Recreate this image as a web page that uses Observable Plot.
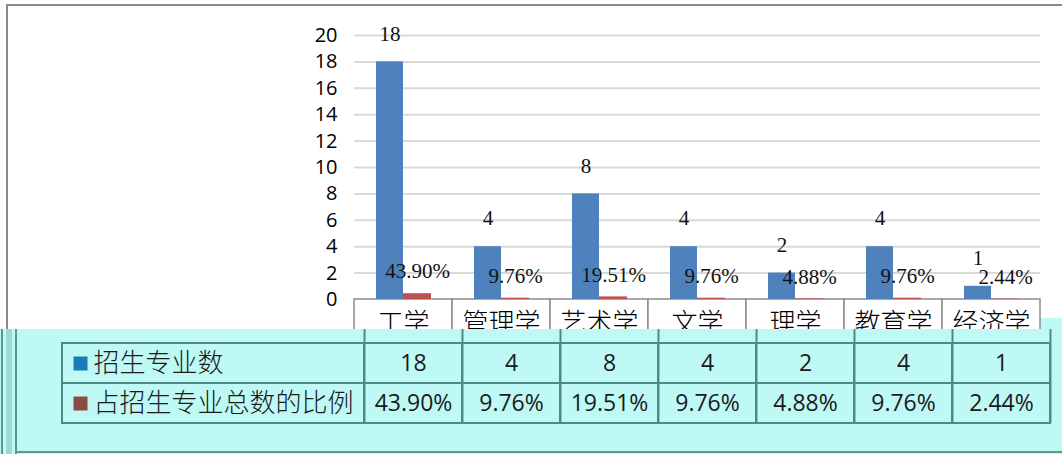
<!DOCTYPE html>
<html><head><meta charset="utf-8">
<script src="https://cdn.jsdelivr.net/npm/d3@7"></script>
<script src="https://cdn.jsdelivr.net/npm/@observablehq/plot@0.6"></script>
<style>
html,body{margin:0;padding:0;background:#fff;}
#wrap{position:relative;width:1062px;height:454px;overflow:hidden;background:#fff;}
#frameTop{position:absolute;left:7px;top:4px;width:1055px;height:2px;background:#8b8b8b;}
#frameLeft{position:absolute;left:6px;top:4px;width:2px;height:330px;background:#8b8b8b;}
#step{position:absolute;left:928px;top:318px;width:134px;height:12px;background:#BFF9F5;}
#chart{position:absolute;left:0;top:0;}
#panel{position:absolute;left:0;top:329px;width:1062px;height:125px;background:#BFF9F5;}
.ln{position:absolute;}
#table{position:absolute;left:0;top:0;}
</style></head><body>
<div id="wrap">
  <div id="step"></div>
  <div id="frameTop"></div><div id="frameLeft"></div>
  <div id="chart"></div>
  <div id="panel">
    <div class="ln" style="left:1px;top:0;width:2px;height:125px;background:#5e968f"></div>
    <div class="ln" style="left:6px;top:0;width:6px;height:125px;background:#9fd9d3"></div>
    <div class="ln" style="left:15px;top:0;width:2px;height:125px;background:#5e968f"></div>
    <div class="ln" style="left:15px;top:122px;width:1047px;height:2px;background:#5e968f"></div>
    <div id="table"></div>
  </div>
</div>
<script>
const categories = ["工学","管理学","艺术学","文学","理学","教育学","经济学"];
const counts = [18, 4, 8, 4, 2, 4, 1];
const ratios = [0.4390, 0.0976, 0.1951, 0.0976, 0.0488, 0.0976, 0.0244];
const ratioLabels = ["43.90%","9.76%","19.51%","9.76%","4.88%","9.76%","2.44%"];
const yTicks = [0, 2, 4, 6, 8, 10, 12, 14, 16, 18, 20];
const seriesNames = ["招生专业数", "占招生专业总数的比例"];
const barColors = ["#4F81BD", "#C0504D"];
const legendColors = ["#1B7AB9", "#8B4B45"];

const rows = categories.map((c, i) => ({category: c, count: counts[i], ratio: ratios[i], ratioLabel: ratioLabels[i]}));

const chart = Plot.plot({
  width: 1062, height: 340,
  marginLeft: 354, marginRight: 22, marginTop: 35, marginBottom: 41,
  style: {background: "transparent", fontFamily: "'Open Sans', sans-serif", color: "#000"},
  x: {domain: categories, padding: 0, label: null},
  y: {domain: [0, 20], label: null},
  marks: [
    Plot.ruleY(yTicks.filter(d => d > 0), {stroke: "#d9d9d9", strokeWidth: 2}),
    Plot.barY(categories, {x: d => d, y1: 0, y2: 0, insetBottom: -45, fill: "white", stroke: "#8c8c8c", strokeWidth: 1.5}),
    Plot.barY(rows, {x: "category", y: "count", fill: barColors[0], insetLeft: 22, insetRight: 49}),
    Plot.barY(rows, {x: "category", y: "ratio", fill: barColors[1], insetLeft: 49, insetRight: 21}),
    Plot.text(rows, {x: "category", y: "count", text: d => String(d.count), dx: -13.5, dy: -28, fontSize: 21, fontFamily: "'Liberation Serif', serif", fill: "#111"}),
    Plot.text(rows, {x: "category", y: "ratio", text: "ratioLabel", dx: 14, dy: -22, fontSize: 21, fontFamily: "'Liberation Serif', serif", fill: "#111"}),
    Plot.axisY({ticks: yTicks, tickSize: 0, tickPadding: 17, fontSize: 20, label: null}),
    Plot.axisX({tickSize: 0, tickPadding: 14, fontSize: 26, fontFamily: "'Noto Sans CJK SC', sans-serif", fontWeight: 300, label: null})
  ]
});
document.getElementById("chart").appendChild(chart);

const tableData = categories.flatMap((c, i) => [
  {category: c, row: seriesNames[0], text: String(counts[i])},
  {category: c, row: seriesNames[1], text: ratioLabels[i]}
]);
const lastCat = [categories[categories.length - 1]];

const table = Plot.plot({
  width: 1062, height: 125,
  marginLeft: 364, marginRight: 12, marginTop: 14, marginBottom: 31,
  style: {background: "transparent", fontFamily: "'Open Sans', sans-serif", color: "#1a1a1a"},
  x: {domain: categories, padding: 0, axis: null},
  y: {domain: seriesNames, padding: 0, axis: null},
  color: {type: "identity"},
  marks: [
    Plot.ruleX(categories, {x: d => d, dx: -49, insetTop: -14, stroke: "#4e8a82", strokeWidth: 2}),
    Plot.ruleX(lastCat, {x: d => d, dx: 49, insetTop: -14, stroke: "#4e8a82", strokeWidth: 2}),
    Plot.cell(seriesNames, {y: d => d, insetLeft: -302, insetRight: 686, fill: "none", stroke: "#4e8a82", strokeWidth: 2}),
    Plot.cell(tableData, {x: "category", y: "row", fill: "none", stroke: "#4e8a82", strokeWidth: 2}),
    Plot.dot(seriesNames, {y: d => d, frameAnchor: "left", dx: -284, symbol: "square", r: 7.9, fill: (d, i) => legendColors[i], stroke: null}),
    Plot.text(seriesNames, {y: d => d, text: d => d, frameAnchor: "left", dx: -271, textAnchor: "start", fontSize: 26, fontFamily: "'Noto Sans CJK SC', sans-serif", fontWeight: 300, fill: "#1a1a1a"}),
    Plot.text(tableData, {x: "category", y: "row", text: "text", fontSize: 23, fill: "#1a1a1a"})
  ]
});
document.getElementById("table").appendChild(table);
</script>
</body></html>
